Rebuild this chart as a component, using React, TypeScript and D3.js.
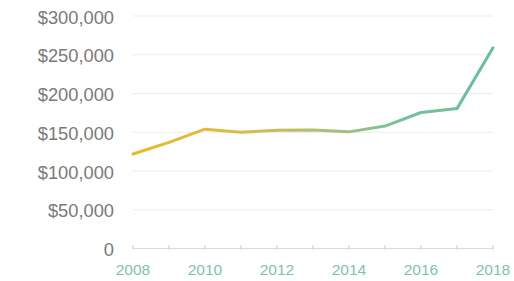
import React from "react";
import * as d3 from "d3";

const years = [2008, 2009, 2010, 2011, 2012, 2013, 2014, 2015, 2016, 2017, 2018];
const values = [122000, 137000, 154000, 150000, 152500, 153000, 150500, 158000, 175500, 180500, 259000];
const yTicks = [0, 50000, 100000, 150000, 200000, 250000, 300000];
const xTickLabels = [2008, 2010, 2012, 2014, 2016, 2018];

const W = 514;
const H = 281;
const left = 133;
const right = 493;
const top = 16;
const bottom = 248.5;

export default function App() {
  const x = d3.scaleLinear().domain([2008, 2018]).range([left, right]);
  const y = d3.scaleLinear().domain([0, 300000]).range([bottom, top]);
  const line = d3
    .line<number>()
    .x((_, i) => x(years[i]))
    .y((d) => y(d));
  const fmt = (v: number) => (v === 0 ? "0" : "$" + d3.format(",")(v));
  return (
    <svg
      width={W}
      height={H}
      style={{ position: "absolute", left: 0, top: 0, background: "#fff" }}
      fontFamily="'Liberation Sans', Arial, sans-serif"
    >
      <defs>
        <linearGradient id="lg" gradientUnits="userSpaceOnUse" x1={left} x2={right} y1={0} y2={0}>
          <stop offset="0%" stopColor="#e8b830" />
          <stop offset="30%" stopColor="#d9bc45" />
          <stop offset="55%" stopColor="#a6c07a" />
          <stop offset="75%" stopColor="#77c09a" />
          <stop offset="100%" stopColor="#66bf9e" />
        </linearGradient>
      </defs>
      {yTicks.map((t) => (
        <g key={t}>
          {t > 0 && (
            <line x1={left} x2={right} y1={y(t)} y2={y(t)} stroke="#ececec" strokeWidth={1} />
          )}
          <text
            x={114}
            y={y(t) + 1}
            textAnchor="end"
            dominantBaseline="central"
            fontSize={18.3}
            fill="#7a7a7a"
          >
            {fmt(t)}
          </text>
        </g>
      ))}
      <line x1={left} x2={right} y1={bottom} y2={bottom} stroke="#dcdcdc" strokeWidth={1} />
      {years.map((yr) => (
        <line key={yr} x1={x(yr)} x2={x(yr)} y1={bottom - 3.5} y2={bottom + 1} stroke="#cfcfcf" strokeWidth={1} />
      ))}
      {xTickLabels.map((yr) => (
        <text key={yr} x={x(yr)} y={274.5} textAnchor="middle" fontSize={15.5} fill="#7cc4ae">
          {yr}
        </text>
      ))}
      <path
        d={line(values) || ""}
        fill="none"
        stroke="url(#lg)"
        strokeWidth={3}
        strokeLinejoin="round"
        strokeLinecap="round"
      />
    </svg>
  );
}
